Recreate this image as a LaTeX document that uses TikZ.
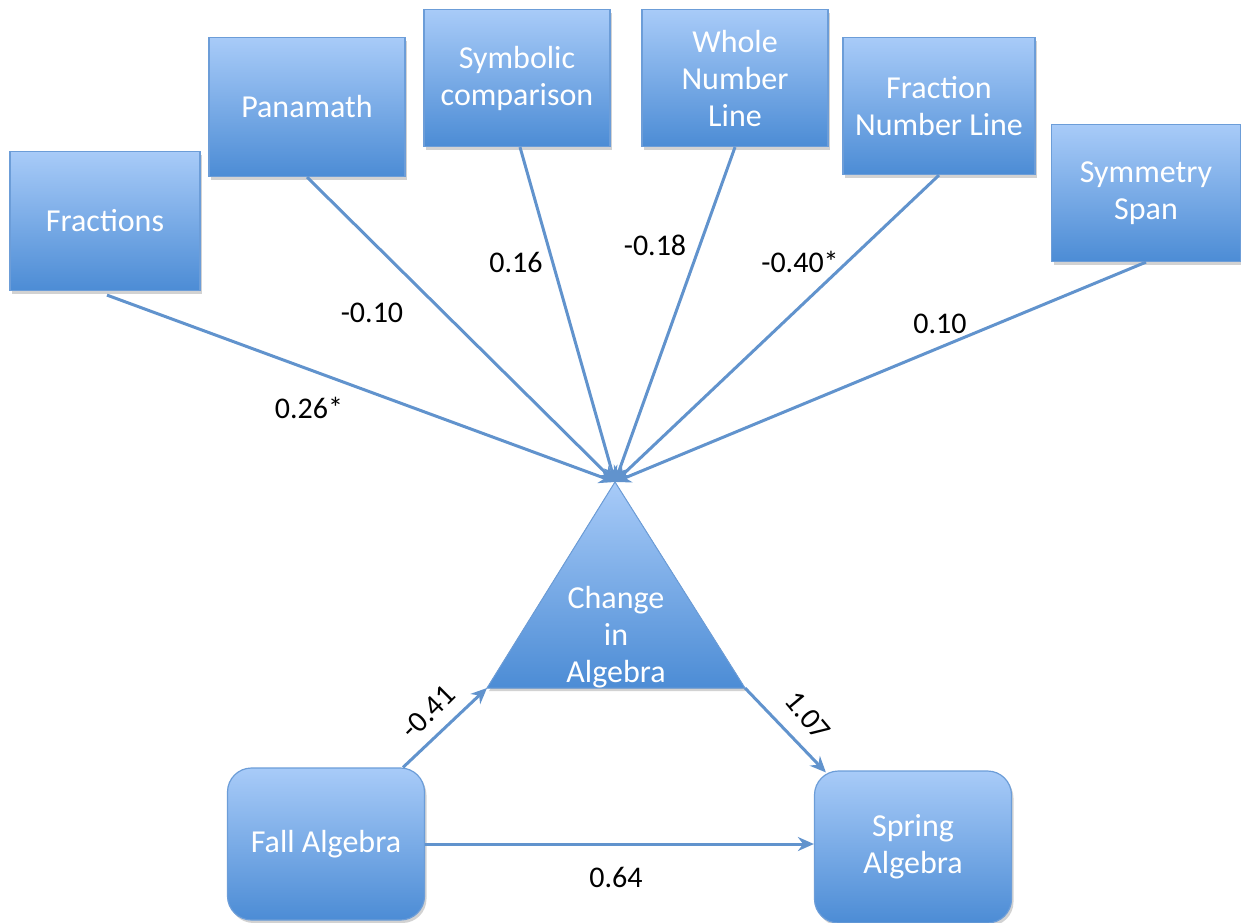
\documentclass[tikz,border=0pt]{standalone}
\usepackage{fontspec}
\setmainfont{Carlito}
\usetikzlibrary{arrows.meta,shadows,calc}
\definecolor{boxtop}{HTML}{A8CBF8}
\definecolor{boxbot}{HTML}{4C8CD5}
\definecolor{boxedge}{HTML}{6C9DD8}
\definecolor{linecol}{HTML}{6193CD}
\tikzset{
  sqbox/.style={draw=boxedge, line width=1.2pt, top color=boxtop, bottom color=boxbot,
    text=white, align=center, font=\fontsize{32}{37}\selectfont,
    drop shadow={shadow xshift=2pt, shadow yshift=-3pt, fill=black!35, opacity=0.5}},
  rbox/.style={sqbox, rounded corners=24pt},
  conn/.style={draw=linecol, line width=3pt},
  arr/.style={conn, -{Stealth[length=16pt,width=14pt]}},
  lab/.style={font=\fontsize{30}{32}\selectfont, text=black, inner sep=1pt}
}
\begin{document}
\begin{tikzpicture}[x=1pt,y=-1pt]
\useasboundingbox (0,0) rectangle (1241,922);
% top boxes
\node[sqbox, minimum width=190pt, minimum height=139pt] (frac) at (105,221) {Fractions};
\node[sqbox, minimum width=196pt, minimum height=139pt] (pana) at (307,107) {Panamath};
\node[sqbox, minimum width=186pt, minimum height=137pt] (symb) at (517,78) {Symbolic\\comparison};
\node[sqbox, minimum width=186pt, minimum height=137pt] (whole) at (735,78) {Whole\\Number\\Line};
\node[sqbox, minimum width=192pt, minimum height=137pt] (fnl) at (939,106) {Fraction\\Number Line};
\node[sqbox, minimum width=189pt, minimum height=137pt] (symm) at (1146,193) {Symmetry\\Span};
% triangle
\coordinate (apex) at (615,482);
\coordinate (tl) at (487,688);
\coordinate (tr) at (745,688);
\fill[top color=boxtop, bottom color=boxbot, draw=boxedge, line width=1pt,
  drop shadow={shadow xshift=2pt, shadow yshift=-3pt, fill=black!35, opacity=0.5}]
  (apex) -- (tr) -- (tl) -- cycle;
\node[text=white, align=center, font=\fontsize{32}{37}\selectfont] (change) at (616,637) {Change\\in\\Algebra};
% bottom boxes
\node[rbox, minimum width=197pt, minimum height=152pt] (fall) at (326,844) {Fall Algebra};
\node[rbox, minimum width=197pt, minimum height=152pt] (spring) at (913,847) {Spring\\Algebra};
% connectors to apex
\draw[arr] (frac.south) ++(2,4) -- (apex);
\draw[arr] (pana.south) -- (apex);
\draw[arr] (symb.south) ++(3,0) -- (apex);
\draw[arr] (whole.south) -- (apex);
\draw[arr] (fnl.south) -- (apex);
\draw[arr] (symm.south) -- (apex);
% bottom connectors
\draw[arr] ($(fall.north)+(77,0)$) -- (tl);
\draw[arr] (tr) -- ($(spring.north west)+(12,2)$);
\draw[arr] (fall.east) -- (spring.west |- fall.east);
% labels
\node[lab] (l1) at (309,408) {0.26*};
\node[lab] (l2) at (372,313) {-0.10};
\node[lab] (l3) at (516,262) {0.16};
\node[lab] (l4) at (655,245) {-0.18};
\node[lab] (l5) at (800,262) {-0.40*};
\node[lab] (l6) at (940,324) {0.10};
\node[lab, rotate=45] (l7) at (428,712) {-0.41};
\node[lab, rotate=-50] (l8) at (808,716) {1.07};
\node[lab] (l9) at (616,877) {0.64};
\end{tikzpicture}
\end{document}
